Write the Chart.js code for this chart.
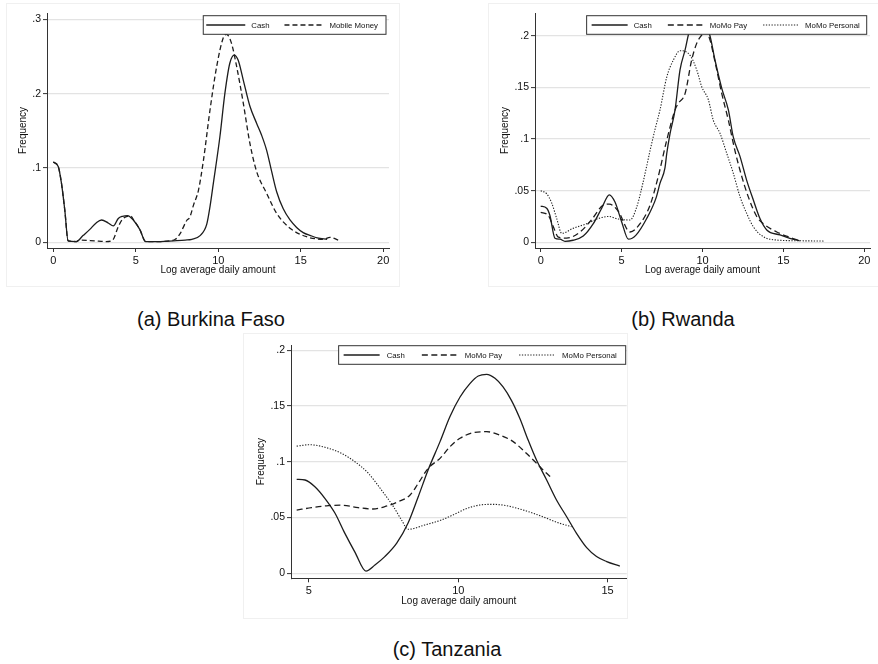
<!DOCTYPE html>
<html>
<head>
<meta charset="utf-8">
<script src="https://cdn.jsdelivr.net/npm/chart.js@4.4.1/dist/chart.umd.min.js"></script>
<style>
  body { margin: 0; background: #fff; width: 878px; height: 664px; position: relative; overflow: hidden;
         font-family: "Liberation Sans", Arial, Helvetica, sans-serif; }
  .frame { position: absolute; border: 1px solid #f0f0f0; box-sizing: border-box; }
  canvas { position: absolute; }
  .cap { position: absolute; font-size: 20px; color: #111; transform: translate(-50%, -50%); white-space: nowrap; }
</style>
</head>
<body>
<div class="frame" style="left:6px;top:3px;width:394px;height:284px"></div>
<div class="frame" style="left:488px;top:3px;width:392px;height:284px"></div>
<div class="frame" style="left:243px;top:333px;width:385px;height:286px"></div>
<canvas id="bf" width="394" height="284" style="left:6px;top:3px"></canvas>
<canvas id="rw" width="390" height="284" style="left:488px;top:3px"></canvas>
<canvas id="tz" width="385" height="286" style="left:243px;top:333px"></canvas>
<div class="cap" style="left:211px;top:319px">(a) Burkina Faso</div>
<div class="cap" style="left:683px;top:319px">(b) Rwanda</div>
<div class="cap" style="left:447px;top:649px">(c) Tanzania</div>
<script>
// tick values
const abXTicks = [0, 5, 10, 15, 20];
const bfYTicks = [0, 0.1, 0.2, 0.3];
const rwYTicks = [0, 0.05, 0.1, 0.15, 0.2];
const tzXTicks = [5, 10, 15];
const tzYTicks = [0, 0.05, 0.1, 0.15, 0.2];

// (a) Burkina Faso  [log amount, frequency]
const bfCash = [[0,0.108],[0.3,0.102],[0.5,0.079],[0.7,0.043],[0.9,0.002],[1.4,0.001],[1.8,0.009],[2.2,0.017],
  [2.6,0.026],[2.93,0.030],[3.33,0.026],[3.64,0.022],[3.94,0.032],[4.2,0.035],[4.5,0.036],[4.85,0.030],
  [5.25,0.017],[5.6,0.001],[6.5,0.001],[7.3,0.002],[8.0,0.003],[8.4,0.004],[8.9,0.009],[9.3,0.024],[9.5,0.048],
  [9.7,0.079],[10.1,0.142],[10.4,0.200],[10.7,0.241],[10.97,0.252],[11.21,0.245],[11.52,0.218],[11.92,0.183],
  [12.33,0.160],[12.63,0.144],[12.93,0.124],[13.24,0.095],[13.54,0.068],[13.94,0.045],[14.35,0.030],
  [14.75,0.020],[15.15,0.013],[15.6,0.009],[16.0,0.006],[16.6,0.004]];
const bfMobile = [[0,0.108],[0.3,0.102],[0.5,0.079],[0.7,0.043],[0.9,0.002],[1.4,0.001],[1.6,0.003],[2.5,0.002],
  [3.2,0.001],[3.6,0.003],[3.94,0.021],[4.2,0.031],[4.5,0.035],[4.7,0.035],[4.9,0.029],[5.25,0.017],[5.6,0.001],
  [6.5,0.001],[7.1,0.002],[7.4,0.004],[7.7,0.012],[8.08,0.029],[8.28,0.034],[8.5,0.050],[8.8,0.070],[9.1,0.110],
  [9.5,0.178],[9.9,0.236],[10.3,0.275],[10.5,0.280],[10.8,0.268],[11.12,0.236],[11.52,0.187],[11.92,0.133],
  [12.33,0.095],[12.93,0.066],[13.54,0.039],[14.35,0.019],[15.35,0.0075],[16.36,0.004],[16.77,0.0067],[17.27,0.003]];

// (b) Rwanda
const rwCash = [[0,0.035],[0.37,0.033],[0.57,0.026],[0.88,0.004],[1.19,0.003],[1.5,0.001],[2.0,0.002],[2.63,0.006],
  [3.25,0.018],[3.77,0.033],[4.24,0.046],[4.59,0.039],[5.0,0.020],[5.42,0.003],[5.89,0.007],[6.55,0.023],
  [7.13,0.043],[7.37,0.057],[7.68,0.072],[7.79,0.086],[7.99,0.105],[8.3,0.128],[8.61,0.167],[8.92,0.186],
  [9.2,0.205],[9.7,0.215],[10.2,0.210],[10.46,0.200],[10.77,0.1765],[11.19,0.149],[11.6,0.128],[11.9,0.102],
  [12.32,0.083],[12.73,0.060],[13.14,0.041],[13.55,0.023],[13.97,0.012],[14.79,0.0071],[15.4,0.0039],[16.0,0.0015]];
const rwPay = [[0,0.029],[0.47,0.026],[0.78,0.015],[1.09,0.005],[1.6,0.004],[2.43,0.010],[3.15,0.022],[3.87,0.036],
  [4.24,0.037],[4.8,0.030],[5.52,0.010],[6.14,0.018],[6.76,0.036],[7.27,0.064],[7.79,0.099],[8.3,0.128],
  [8.5,0.1345],[8.92,0.144],[9.33,0.1765],[9.64,0.1926],[9.95,0.2007],[10.2,0.205],[10.46,0.196],[10.77,0.175],
  [11.19,0.144],[11.6,0.118],[12.0,0.089],[12.43,0.0635],[12.83,0.044],[13.35,0.025],[13.76,0.018],[14.59,0.010],
  [15.4,0.0048],[16.0,0.0015]];
const rwPersonal = [[0,0.050],[0.37,0.047],[0.68,0.038],[0.99,0.023],[1.3,0.0087],[2.0,0.0135],[2.84,0.018],
  [3.56,0.023],[4.2,0.025],[4.8,0.0225],[5.52,0.0216],[5.93,0.034],[6.34,0.059],[6.76,0.089],[7.06,0.109],
  [7.37,0.128],[7.79,0.160],[8.2,0.1765],[8.61,0.1855],[9.23,0.181],[9.64,0.167],[9.95,0.1506],[10.36,0.138],
  [10.67,0.118],[11.08,0.1055],[11.5,0.086],[11.9,0.067],[12.32,0.044],[12.73,0.028],[13.14,0.015],[13.76,0.0054],
  [14.59,0.0022],[16.0,0.0015],[17.47,0.0012]];

// (c) Tanzania
const tzCash = [[4.59,0.0842],[4.87,0.0836],[5.2,0.0776],[5.54,0.067],[5.87,0.054],[6.2,0.036],[6.54,0.019],
  [6.91,0.002],[7.21,0.0074],[7.54,0.0149],[7.94,0.027],[8.32,0.045],[8.66,0.0686],[8.99,0.0926],[9.39,0.118],
  [9.72,0.1403],[10.06,0.158],[10.39,0.170],[10.67,0.1768],[10.95,0.1783],[11.23,0.1747],[11.5,0.167],
  [11.78,0.155],[12.06,0.1389],[12.34,0.1194],[12.62,0.1015],[12.96,0.0836],[13.29,0.0657],[13.63,0.0507],
  [13.96,0.0358],[14.3,0.0230],[14.63,0.0150],[14.97,0.0105],[15.41,0.0065]];
const tzPay = [[4.59,0.0567],[5.09,0.0588],[5.65,0.0606],[6.09,0.061],[6.65,0.0588],[7.15,0.0576],[7.54,0.0597],
  [7.98,0.064],[8.38,0.070],[8.66,0.0806],[8.99,0.094],[9.39,0.103],[9.72,0.1134],[10.06,0.121],[10.5,0.126],
  [10.95,0.1269],[11.39,0.1239],[11.84,0.118],[12.28,0.1075],[12.62,0.0986],[12.9,0.091],[13.12,0.0857]];
const tzPersonal = [[4.59,0.114],[5.03,0.1152],[5.54,0.1129],[6.09,0.1075],[6.54,0.100],[6.99,0.0896],[7.43,0.0746],
  [7.83,0.0597],[8.1,0.0478],[8.32,0.0394],[8.88,0.0433],[9.44,0.0478],[9.89,0.0531],[10.28,0.058],[10.72,0.0612],
  [11.17,0.0618],[11.61,0.0606],[12.06,0.0576],[12.51,0.0538],[12.96,0.0493],[13.4,0.0448],[13.79,0.0418]];

const FONT = '"Liberation Sans", Arial, Helvetica, sans-serif';
const INK = '#111';
const AXIS = '#333';

const styles = {
  solid: { borderColor: '#1c1c1c', borderWidth: 1.3, borderDash: [] },
  dash: { borderColor: '#1c1c1c', borderWidth: 1.3, borderDash: [5, 3] },
  longdash: { borderColor: '#1c1c1c', borderWidth: 1.3, borderDash: [6, 3.5] },
  dot: { borderColor: '#222', borderWidth: 1.1, borderDash: [1.3, 1.5] }
};

function tickLabel(v) {
  return v === 0 ? '0' : String(+v.toFixed(2)).replace(/^0\./, '.');
}

function series(label, pts, style) {
  return Object.assign({
    label: label,
    data: pts.map(p => ({ x: p[0], y: p[1] })),
    showLine: true,
    pointRadius: 0,
    fill: false,
    cubicInterpolationMode: 'monotone'
  }, styles[style]);
}

// legend drawn as a framed box inside the plot region
const boxLegend = {
  id: 'boxLegend',
  afterDraw(chart, args, opts) {
    const ctx = chart.ctx, area = chart.chartArea;
    ctx.save();
    ctx.font = '7.8px ' + FONT;
    const items = chart.data.datasets.map(d => ({ d: d, w: ctx.measureText(d.label).width }));
    let width = opts.padL + opts.padR;
    items.forEach((it, i) => { width += opts.keyLen + opts.gap + it.w + (i ? opts.spacing : 0); });
    const x0 = area.right - opts.right - width;
    const y0 = area.top + opts.top;
    ctx.fillStyle = '#fff';
    ctx.fillRect(x0, y0, width, opts.height);
    ctx.strokeStyle = AXIS;
    ctx.lineWidth = 1;
    ctx.strokeRect(x0, y0, width, opts.height);
    const cy = y0 + opts.height / 2;
    let x = x0 + opts.padL;
    items.forEach((it, i) => {
      if (i) x += opts.spacing;
      ctx.beginPath();
      ctx.setLineDash(it.d.borderDash || []);
      ctx.lineWidth = it.d.borderWidth;
      ctx.strokeStyle = it.d.borderColor;
      ctx.moveTo(x, cy);
      ctx.lineTo(x + opts.keyLen, cy);
      ctx.stroke();
      ctx.setLineDash([]);
      x += opts.keyLen + opts.gap;
      ctx.fillStyle = INK;
      ctx.textAlign = 'left';
      ctx.textBaseline = 'middle';
      ctx.fillText(it.d.label, x, cy + 0.5);
      x += it.w;
    });
    ctx.restore();
  }
};

function makeChart(id, p) {
  return new Chart(document.getElementById(id), {
    type: 'scatter',
    data: { datasets: p.datasets },
    plugins: [boxLegend],
    options: {
      responsive: false,
      animation: false,
      devicePixelRatio: 1,
      layout: { padding: { top: p.padTop, right: p.padRight, left: 0, bottom: 0 } },
      plugins: {
        legend: { display: false },
        tooltip: { enabled: false },
        boxLegend: p.legend
      },
      scales: {
        x: {
          type: 'linear',
          min: p.xMin, max: p.xMax,
          afterBuildTicks: s => { s.ticks = p.xTicks.map(v => ({ value: v })); },
          afterFit: s => { s.height = p.xAxisHeight; },
          grid: { drawOnChartArea: false, drawTicks: true, tickLength: 4, tickColor: AXIS, tickWidth: 1 },
          border: { display: true, color: AXIS, width: 1 },
          ticks: { padding: 2, color: INK, font: { family: FONT, size: 11 }, maxRotation: 0,
                   callback: v => tickLabel(v) },
          title: { display: true, text: 'Log average daily amount', color: INK,
                   font: { family: FONT, size: 10 }, padding: { top: 0, bottom: p.xTitlePad } }
        },
        y: {
          type: 'linear',
          min: p.yMin, max: p.yMax,
          afterBuildTicks: s => { s.ticks = p.yTicks.map(v => ({ value: v })); },
          afterFit: s => { s.width = p.yAxisWidth; },
          grid: { color: '#e3e3e3', lineWidth: 1.2, drawTicks: true, tickLength: 4, tickColor: AXIS, tickWidth: 1 },
          border: { display: true, color: AXIS, width: 1 },
          ticks: { padding: 2, color: INK, font: { family: FONT, size: 10.5 }, callback: v => tickLabel(v) },
          title: { display: true, text: 'Frequency', color: INK,
                   font: { family: FONT, size: 10 }, padding: { top: p.yTitlePad, bottom: 0 } }
        }
      }
    }
  });
}

makeChart('bf', {
  datasets: [series('Cash', bfCash, 'solid'), series('Mobile Money', bfMobile, 'dash')],
  xMin: -0.38, xMax: 20.35, yMin: -0.0077, yMax: 0.3086,
  xTicks: abXTicks, yTicks: bfYTicks,
  padTop: 10, padRight: 11, yAxisWidth: 41, xAxisHeight: 39,
  xTitlePad: 11, yTitlePad: 11.3,
  legend: { padL: 3, padR: 8, keyLen: 39, gap: 6, spacing: 15, height: 18.6, top: 2.7, right: 3 }
});

makeChart('rw', {
  datasets: [series('Cash', rwCash, 'solid'), series('MoMo Pay', rwPay, 'longdash'),
             series('MoMo Personal', rwPersonal, 'dot')],
  xMin: -0.352, xMax: 20.35, yMin: -0.0055, yMax: 0.222,
  xTicks: abXTicks, yTicks: rwYTicks,
  padTop: 10, padRight: 8, yAxisWidth: 47, xAxisHeight: 39,
  xTitlePad: 11, yTitlePad: 11,
  legend: { padL: 5, padR: 7, keyLen: 36, gap: 6, spacing: 16, height: 18.6, top: 2.7, right: 3.3 }
});

makeChart('tz', {
  datasets: [series('Cash', tzCash, 'solid'), series('MoMo Pay', tzPay, 'longdash'),
             series('MoMo Personal', tzPersonal, 'dot')],
  xMin: 4.4, xMax: 15.64, yMin: -0.0045, yMax: 0.2046,
  xTicks: tzXTicks, yTicks: tzYTicks,
  padTop: 12, padRight: 1.3, yAxisWidth: 48, xAxisHeight: 40.7,
  xTitlePad: 11.3, yTitlePad: 12.7,
  legend: { padL: 5, padR: 9, keyLen: 36, gap: 7, spacing: 17, height: 18.6, top: 0.7, right: 1 }
});
</script>
</body>
</html>
